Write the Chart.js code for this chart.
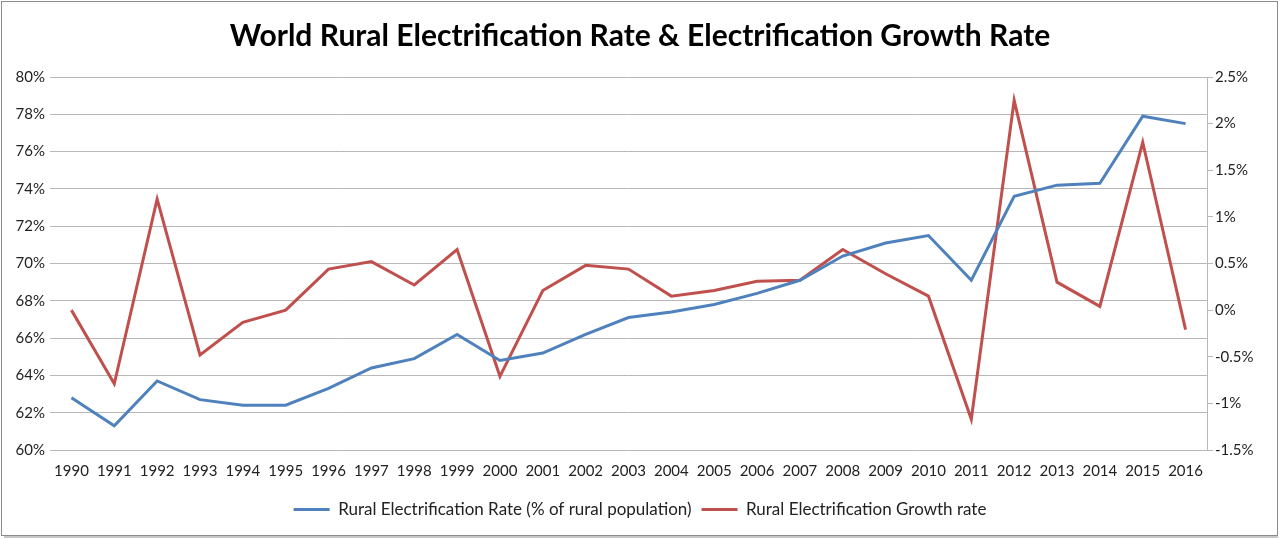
<!DOCTYPE html>
<html>
<head>
<meta charset="utf-8">
<script src="https://cdn.jsdelivr.net/npm/chart.js@4"></script>
<style>
    html, body { margin: 0; padding: 0; background: #fff; }
    #wrap { width: 1280px; height: 539px; position: relative; }
</style>
</head>
<body>
<div id="wrap"><canvas id="chart"></canvas></div>
<script>
// Chart data
const years = ['1990','1991','1992','1993','1994','1995','1996','1997','1998','1999',
    '2000','2001','2002','2003','2004','2005','2006','2007','2008','2009',
    '2010','2011','2012','2013','2014','2015','2016'];
const ruralRate = [62.8, 61.3, 63.7, 62.7, 62.4, 62.4, 63.3, 64.4, 64.9, 66.2,
    64.8, 65.2, 66.2, 67.1, 67.4, 67.8, 68.4, 69.1, 70.4, 71.1,
    71.5, 69.1, 73.6, 74.2, 74.3, 77.9, 77.5];
const growthRate = [0.00, -0.79, 1.19, -0.48, -0.13, 0.00, 0.44, 0.52, 0.27, 0.65,
    -0.71, 0.21, 0.48, 0.44, 0.15, 0.21, 0.31, 0.32, 0.65, 0.39,
    0.15, -1.17, 2.25, 0.30, 0.04, 1.80, -0.21];
const leftTicks = { min: 60, max: 80, step: 2 };
const rightTicks = { min: -1.5, max: 2.5, step: 0.5 };

const FONT = 'Lato, "Open Sans", sans-serif';
const GRID = '#b8b8b8';
const TEXT = '#222222';

// Outer frame like the spreadsheet chart border
const framePlugin = {
    id: 'frame',
    beforeDraw(chart) {
        const ctx = chart.ctx;
        ctx.save();
        ctx.fillStyle = '#ffffff';
        ctx.fillRect(0, 0, chart.width, chart.height);
        ctx.strokeStyle = '#8c8c8c';
        ctx.lineWidth = 1;
        ctx.strokeRect(1.5, 1.5, chart.width - 4, chart.height - 5);
        ctx.strokeStyle = '#c8c8c8';
        ctx.lineWidth = 2;
        ctx.beginPath();
        ctx.moveTo(4, chart.height - 2);
        ctx.lineTo(chart.width - 2, chart.height - 2);
        ctx.stroke();
        ctx.restore();
    }
};

new Chart(document.getElementById('chart'), {
    type: 'line',
    data: {
        labels: years,
        datasets: [
            {
                label: 'Rural Electrification Rate (% of rural population)',
                data: ruralRate,
                borderColor: '#4f81bd',
                backgroundColor: '#4f81bd',
                borderWidth: 3,
                pointRadius: 0,
                tension: 0,
                yAxisID: 'y'
            },
            {
                label: 'Rural Electrification Growth rate',
                data: growthRate,
                borderColor: '#c0504d',
                backgroundColor: '#c0504d',
                borderWidth: 3,
                pointRadius: 0,
                tension: 0,
                yAxisID: 'y1'
            }
        ]
    },
    options: {
        responsive: true,
        maintainAspectRatio: false,
        animation: false,
        layout: { padding: { left: 0, right: 0, top: 0, bottom: 11 } },
        plugins: {
            title: {
                display: true,
                text: 'World Rural Electrification Rate & Electrification Growth Rate',
                color: '#000000',
                font: { family: FONT, size: 30, weight: 'bold' },
                padding: { top: 18, bottom: 23 }
            },
            legend: {
                position: 'bottom',
                labels: {
                    usePointStyle: true,
                    pointStyle: 'line',
                    pointStyleWidth: 36,
                    color: TEXT,
                    padding: 10,
                    font: { family: FONT, size: 17 }
                }
            },
            tooltip: { enabled: false }
        },
        scales: {
            x: {
                offset: true,
                afterFit: s => { s.height = 41; },
                grid: { display: false, drawTicks: false },
                border: { display: false },
                ticks: {
                    color: TEXT,
                    padding: 12,
                    autoSkip: false,
                    maxRotation: 0,
                    font: { family: FONT, size: 15 }
                }
            },
            y: {
                position: 'left',
                min: leftTicks.min,
                max: leftTicks.max,
                afterFit: s => { s.width = 50; },
                ticks: {
                    stepSize: leftTicks.step,
                    color: TEXT,
                    padding: 5,
                    font: { family: FONT, size: 15 },
                    callback: v => v + '%'
                },
                grid: { color: GRID, drawTicks: false },
                border: { display: false }
            },
            y1: {
                position: 'right',
                min: rightTicks.min,
                max: rightTicks.max,
                afterFit: s => { s.width = 73; },
                ticks: {
                    stepSize: rightTicks.step,
                    color: TEXT,
                    padding: 2,
                    font: { family: FONT, size: 15 },
                    callback: v => (Math.round(v * 10) / 10) + '%'
                },
                grid: { drawOnChartArea: false, color: GRID, tickLength: 6 },
                border: { display: true, color: GRID }
            }
        }
    },
    plugins: [framePlugin]
});
</script>
</body>
</html>
